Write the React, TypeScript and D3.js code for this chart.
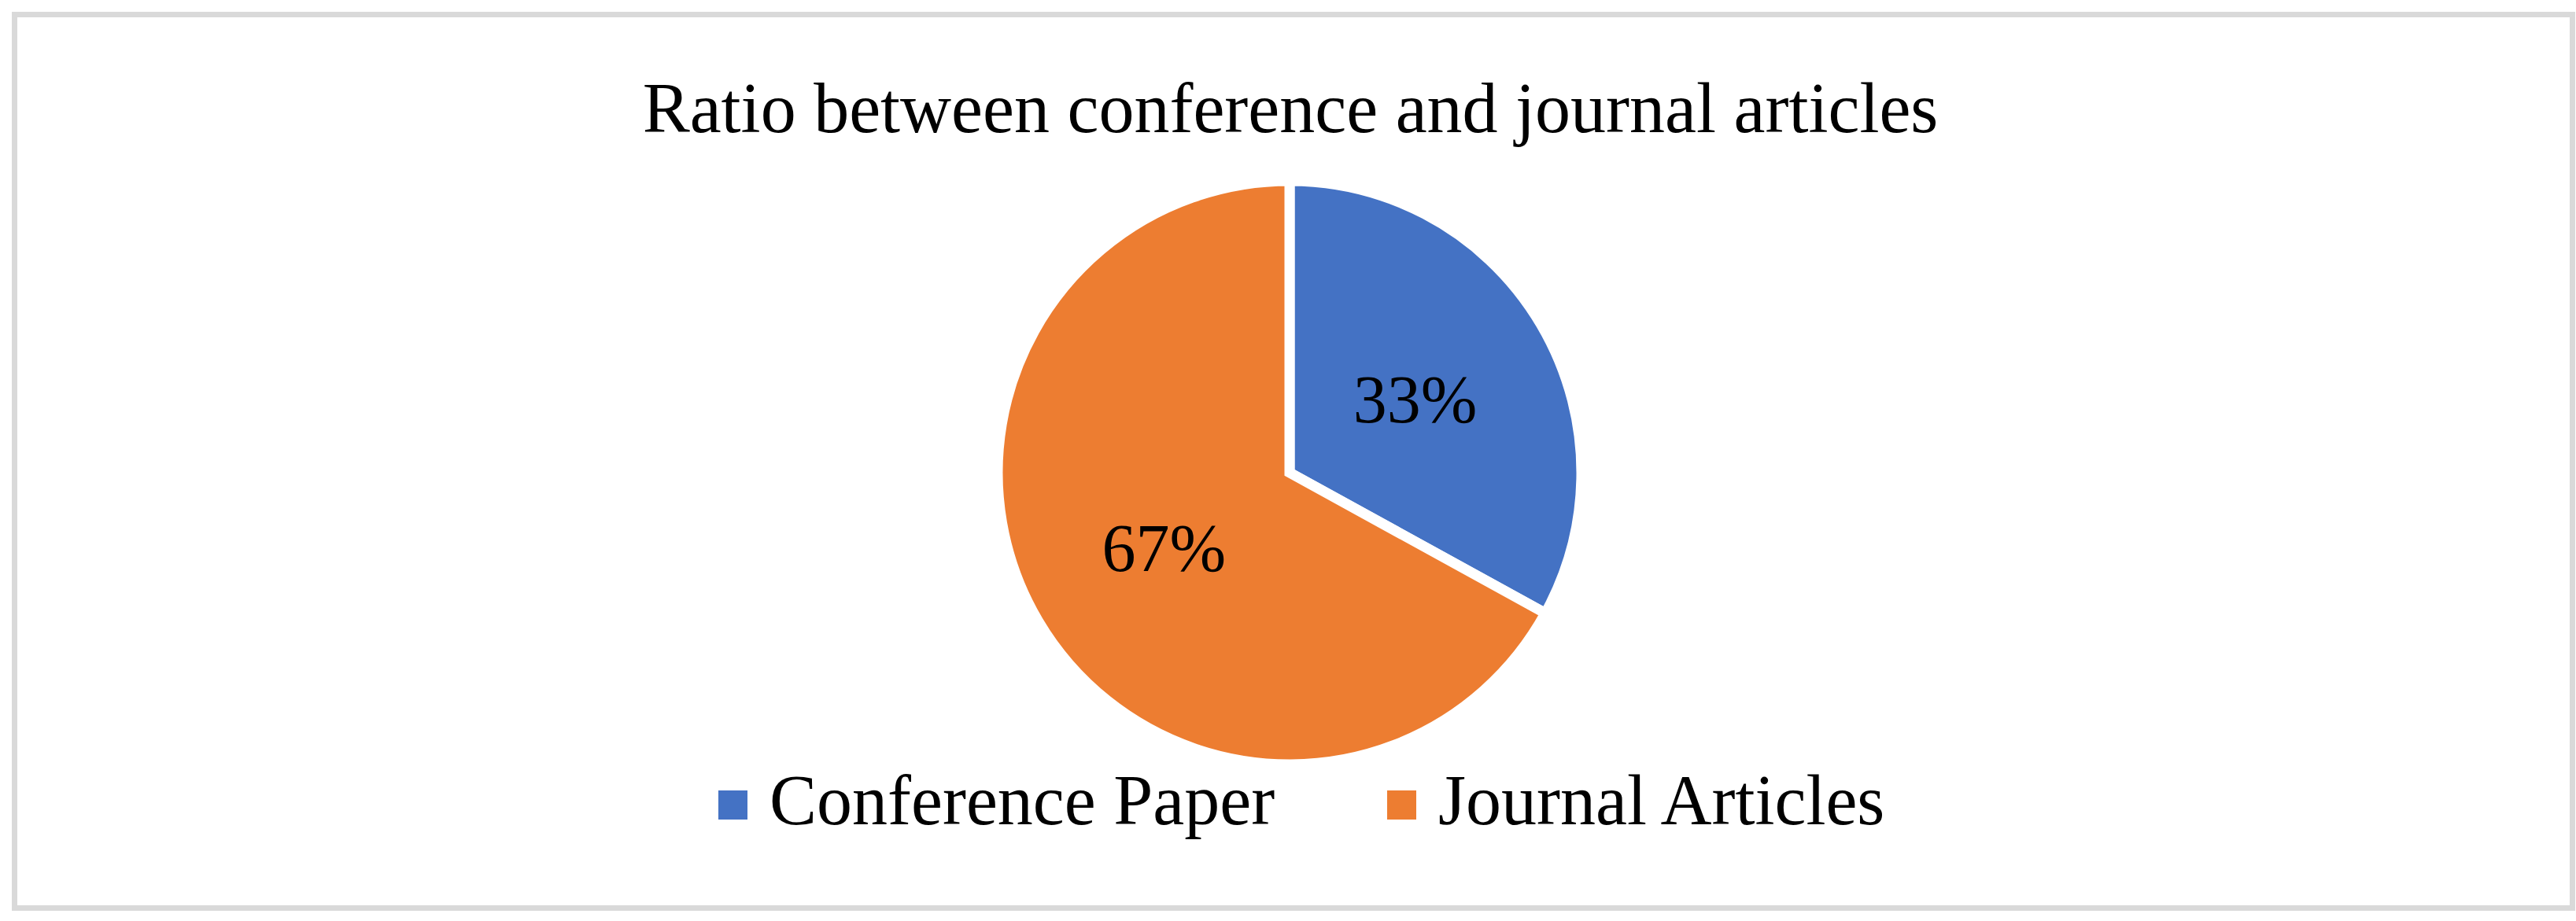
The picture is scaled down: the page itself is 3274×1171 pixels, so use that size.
import { useMemo } from 'react'
import * as d3 from 'd3'

const categories = ['Conference Paper', 'Journal Articles']
const shares = [33, 67]
const colors = ['#4472C4', '#ED7D31']
const title = 'Ratio between conference and journal articles'

const W = 3274
const H = 1171
const FONT = '"Book Antiqua", "Palatino Linotype", "Liberation Serif", "DejaVu Serif", serif'

export default function App() {
  const cx = 1639
  const cy = 601
  const r = 371

  const slices = useMemo(() => {
    const pie = d3.pie<number>().sort(null).value((d) => d)
    return pie(shares)
  }, [])

  const arc = d3.arc<d3.PieArcDatum<number>>().innerRadius(0).outerRadius(r)
  const labelArc = d3.arc<d3.PieArcDatum<number>>().innerRadius(r * 0.5).outerRadius(r * 0.5)
  const total = d3.sum(shares)

  // legend layout
  const legendX = d3.scalePoint<string>().domain(categories).range([913, 1763])

  return (
    <div style={{ position: 'absolute', left: 0, top: 0 }}>
      <svg width={W} height={H} style={{ display: 'block', background: '#fff' }}>
        <rect x={18.5} y={18.5} width={3251} height={1136} fill="#fff" stroke="#D9D9D9" strokeWidth={7} />
        <text x={1640} y={168} textAnchor="middle" fontFamily={FONT} fontSize={90} fill="#000">
          {title}
        </text>
        <g transform={`translate(${cx},${cy})`}>
          {slices.map((s, i) => (
            <path key={i} d={arc(s) || ''} fill={colors[i]} stroke="#fff" strokeWidth={13} strokeLinejoin="miter" />
          ))}
          {slices.map((s, i) => {
            const [lx, ly] = labelArc.centroid(s)
            return (
              <text key={'l' + i} x={lx} y={ly} dy="0.35em" textAnchor="middle" fontFamily={FONT} fontSize={86} fill="#000">
                {`${Math.round((s.data / total) * 100)}%`}
              </text>
            )
          })}
        </g>
        {categories.map((c, i) => {
          const x = legendX(c) || 0
          return (
            <g key={c} transform={`translate(${x},1005)`}>
              <rect width={37} height={37} fill={colors[i]} />
              <text x={65} y={43} fontFamily={FONT} fontSize={90} fill="#000">
                {c}
              </text>
            </g>
          )
        })}
      </svg>
    </div>
  )
}
